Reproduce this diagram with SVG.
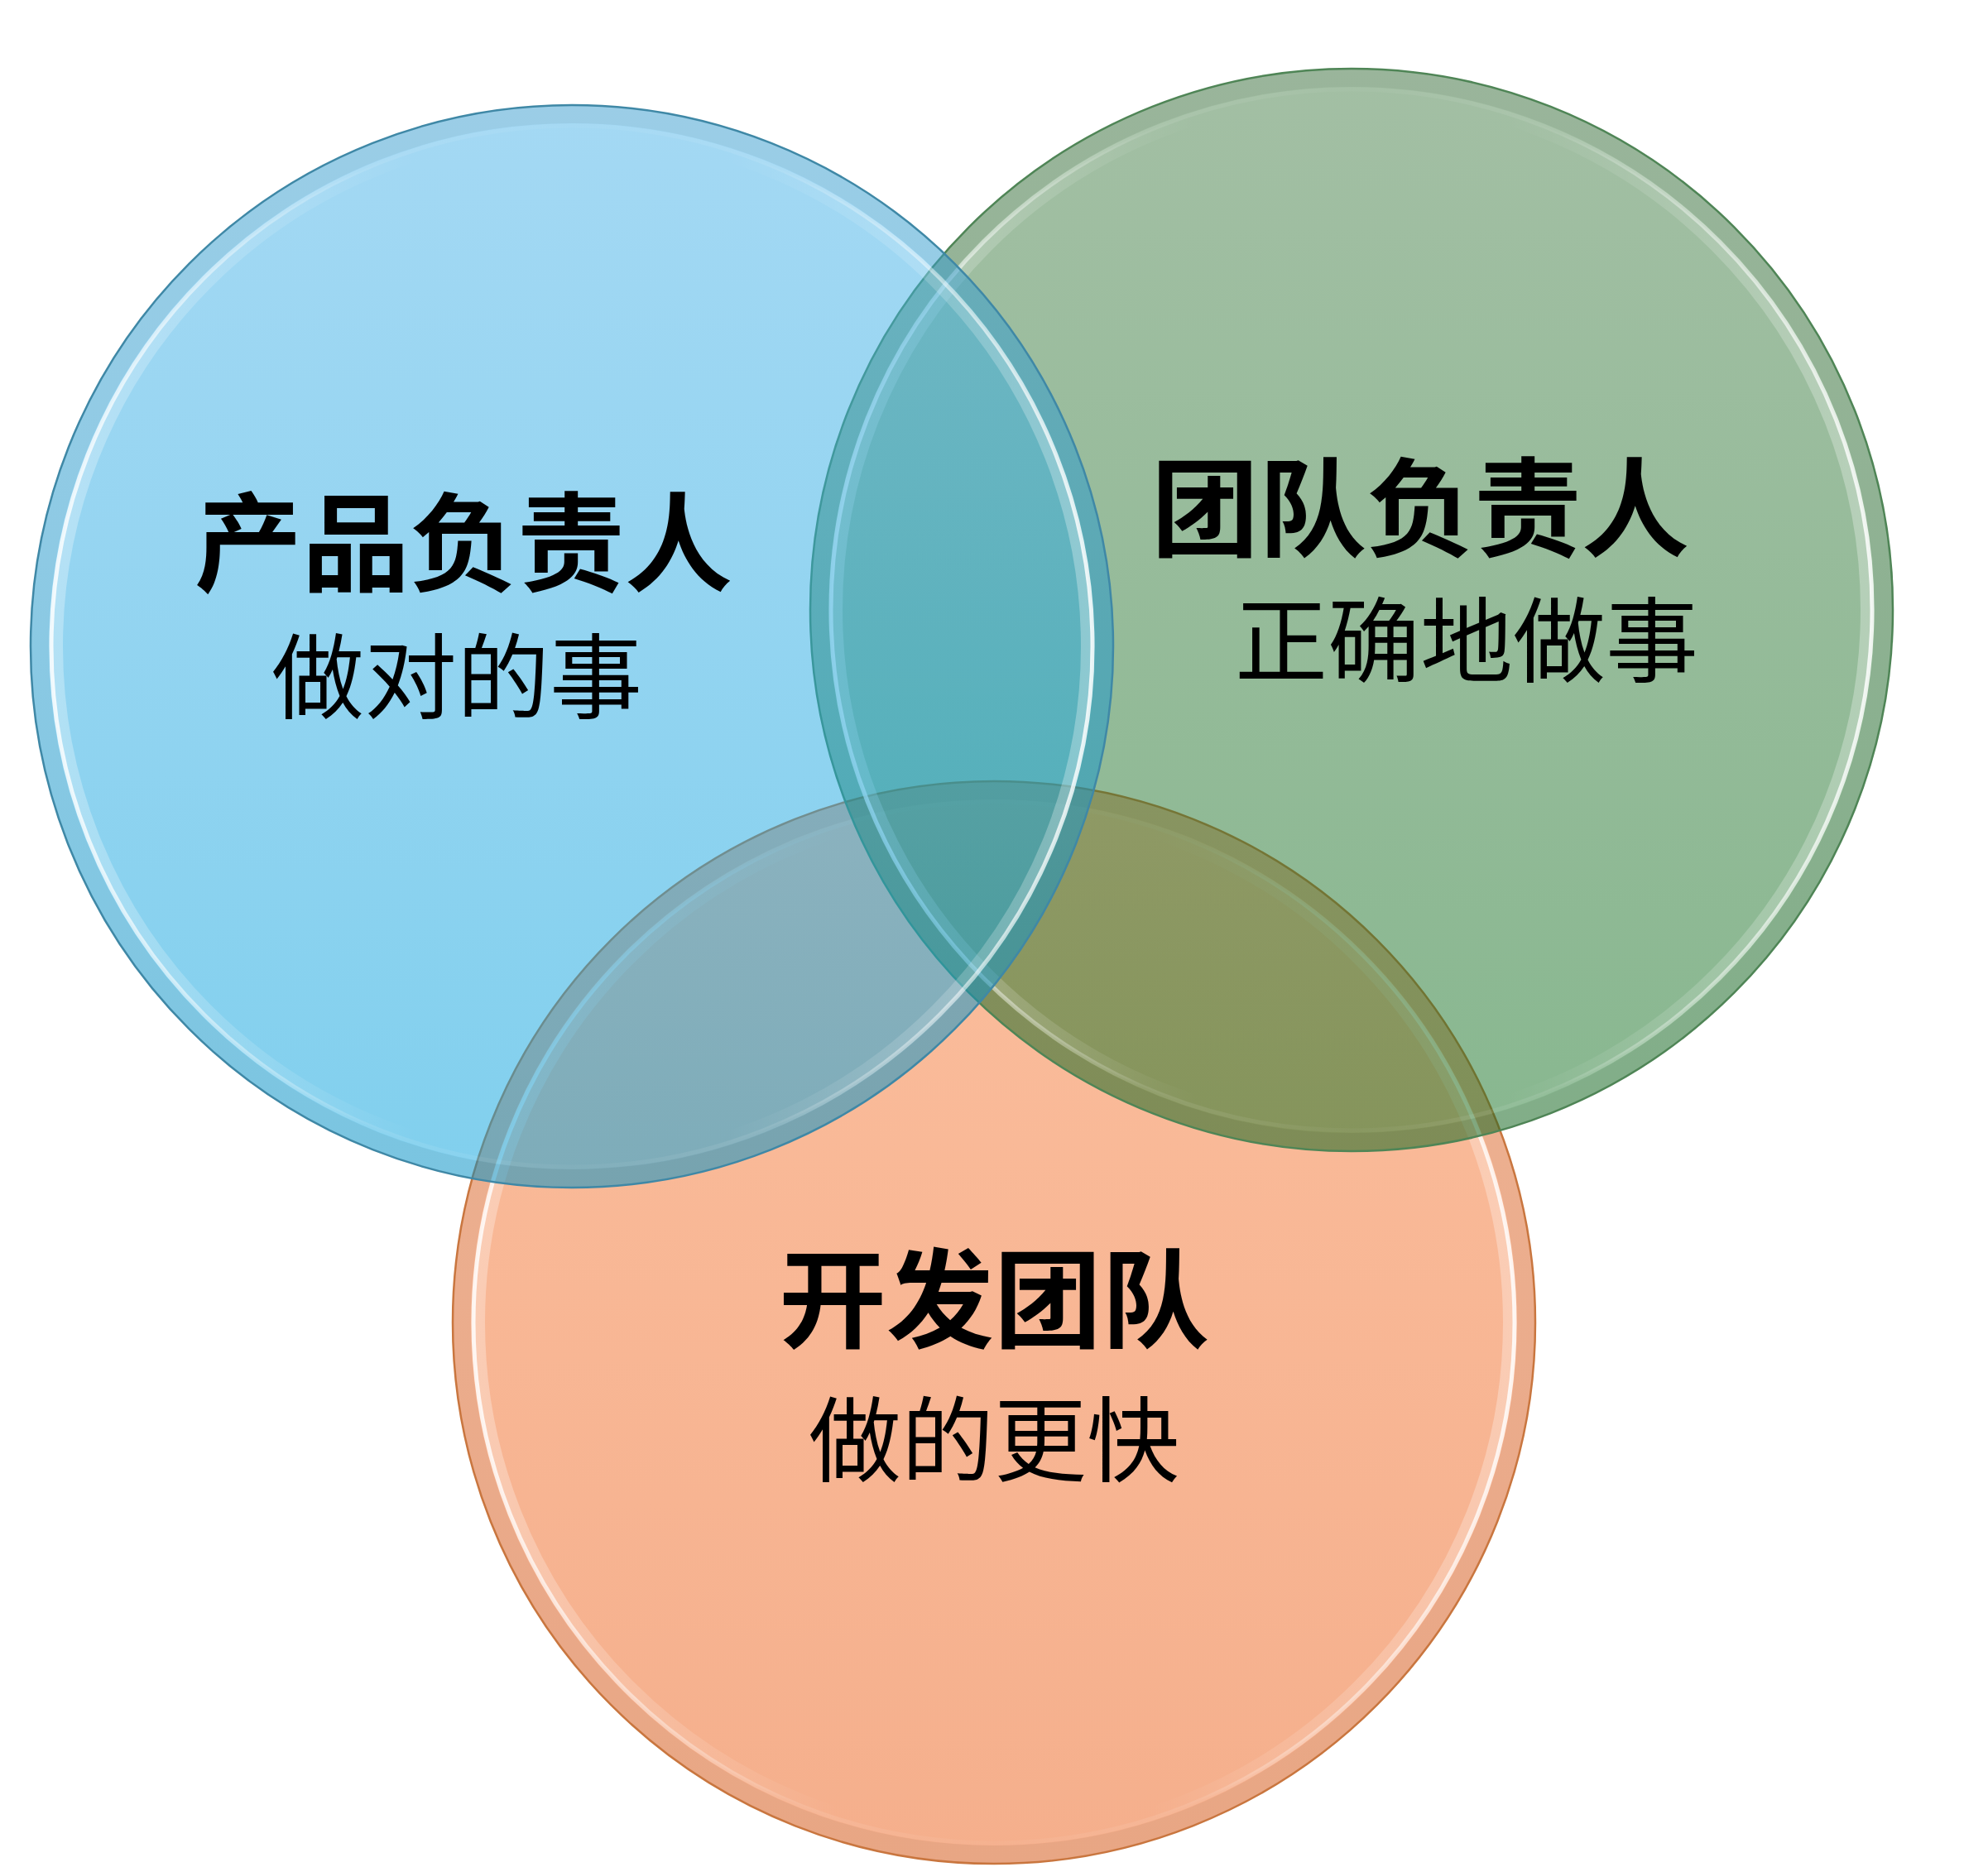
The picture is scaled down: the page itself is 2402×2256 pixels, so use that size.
<svg xmlns="http://www.w3.org/2000/svg" width="2402" height="2256" viewBox="0 0 2402 2256">
  <defs>
    <linearGradient id="gBlue" x1="0" y1="0" x2="0" y2="1">
      <stop offset="0" stop-color="#49B2E8" stop-opacity="0.5"/>
      <stop offset="1" stop-color="#02A0DC" stop-opacity="0.5"/>
    </linearGradient>
    <linearGradient id="gGreen" x1="0" y1="0" x2="0" y2="1">
      <stop offset="0" stop-color="#477F49" stop-opacity="0.5"/>
      <stop offset="1" stop-color="#117020" stop-opacity="0.5"/>
    </linearGradient>
    <linearGradient id="gOrange" x1="0" y1="0" x2="0" y2="1">
      <stop offset="0" stop-color="#F77D3B" stop-opacity="0.5"/>
      <stop offset="1" stop-color="#EB5F19" stop-opacity="0.5"/>
    </linearGradient>
    <linearGradient id="hl" x1="0" y1="0" x2="1" y2="0">
      <stop offset="0" stop-color="#FFFFFF" stop-opacity="0.85"/>
      <stop offset="0.3" stop-color="#FFFFFF" stop-opacity="0.1"/>
      <stop offset="0.5" stop-color="#FFFFFF" stop-opacity="0.03"/>
      <stop offset="0.7" stop-color="#FFFFFF" stop-opacity="0.1"/>
      <stop offset="1" stop-color="#FFFFFF" stop-opacity="0.85"/>
    </linearGradient>
    <linearGradient id="hlSoft" x1="0" y1="0" x2="1" y2="0">
      <stop offset="0" stop-color="#FFFFFF" stop-opacity="0.3"/>
      <stop offset="0.35" stop-color="#FFFFFF" stop-opacity="0"/>
      <stop offset="0.65" stop-color="#FFFFFF" stop-opacity="0"/>
      <stop offset="1" stop-color="#FFFFFF" stop-opacity="0.3"/>
    </linearGradient>
  </defs>
  <style>
    .ring { fill: none; stroke: #000000; stroke-opacity: 0.05; stroke-width: 22; }
    .hl { fill: none; stroke: url(#hl); stroke-width: 5; }
    .hls { fill: none; stroke: url(#hlSoft); stroke-width: 14; }
    .edge { fill: none; stroke-width: 2.5; }
    .t { font-family: "Noto Sans CJK SC", "Noto Sans", sans-serif; font-weight: 700; font-size: 130px; fill: #000000; text-anchor: middle; }
    .s { font-family: "Noto Sans CJK SC", "Noto Sans", sans-serif; font-weight: 400; font-size: 112px; fill: #000000; text-anchor: middle; }
  </style>
  <rect x="0" y="0" width="2402" height="2256" fill="#FFFFFF"/>

  <g id="node-dev-team">
    <circle cx="1201" cy="1598" r="654" fill="url(#gOrange)"/>
    <circle cx="1201" cy="1598" r="643" class="ring"/>
    <circle cx="1201" cy="1598" r="622" class="hls"/>
    <circle cx="1201" cy="1598" r="629" class="hl"/>
    <circle cx="1201" cy="1598" r="654" class="edge" stroke="#C9763F"/>
    <text class="t" x="1201" y="1618">开发团队</text>
    <text class="s" x="1201" y="1782">做的更快</text>
  </g>

  <g id="node-team-lead">
    <circle cx="1633" cy="737" r="654" fill="url(#gGreen)"/>
    <circle cx="1633" cy="737" r="643" class="ring"/>
    <circle cx="1633" cy="737" r="622" class="hls"/>
    <circle cx="1633" cy="737" r="629" class="hl"/>
    <circle cx="1633" cy="737" r="654" class="edge" stroke="#4F8556"/>
    <text class="t" x="1716" y="662">团队负责人</text>
    <text class="s" x="1772" y="816">正确地做事</text>
  </g>

  <g id="node-product-owner">
    <circle cx="691" cy="781" r="654" fill="url(#gBlue)"/>
    <circle cx="691" cy="781" r="643" class="ring"/>
    <circle cx="691" cy="781" r="622" class="hls"/>
    <circle cx="691" cy="781" r="629" class="hl"/>
    <circle cx="691" cy="781" r="654" class="edge" stroke="#3F88A6"/>
    <text class="t" x="560" y="704">产品负责人</text>
    <text class="s" x="552" y="860">做对的事</text>
  </g>

  <g id="connectors"/>
</svg>
